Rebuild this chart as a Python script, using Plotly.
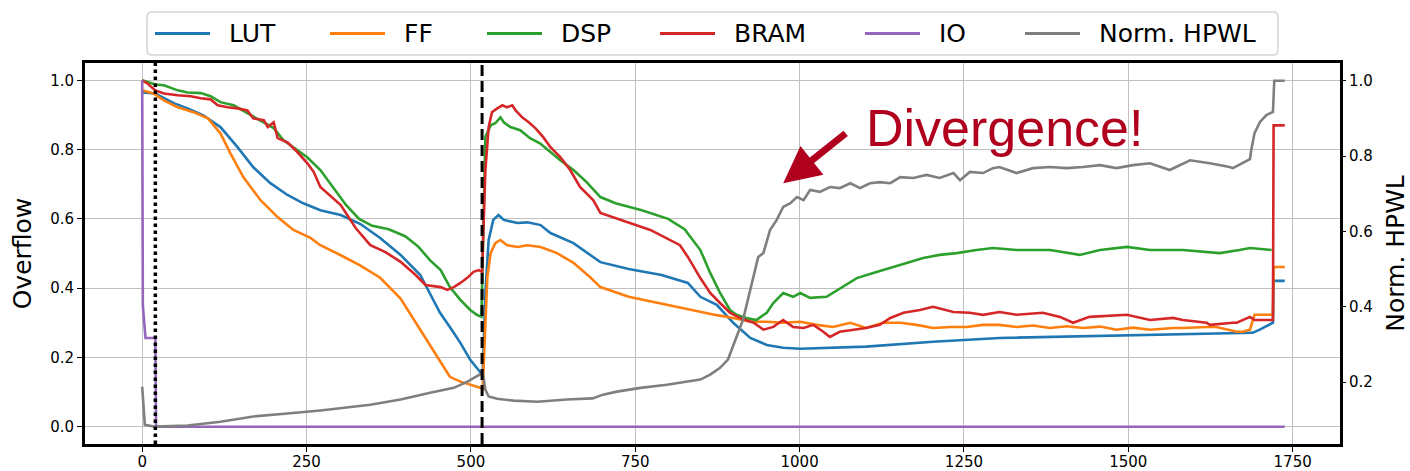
import plotly.graph_objects as go

# ---------------- data ----------------
lut_x = [0, 20, 48, 69, 93, 119, 145, 169, 195, 221, 245, 271, 302, 332, 362, 393, 423, 453, 468, 484, 499, 514, 518,
         522, 527, 534, 542, 550, 571, 586, 606, 621, 656, 697, 740, 790, 830, 849, 874, 899, 925, 950, 975, 1001,
         1101, 1203, 1304, 1381, 1498, 1600, 1689, 1700, 1710, 1720, 1721, 1738]
lut_y = [0.965, 0.962, 0.934, 0.919, 0.899, 0.865, 0.807, 0.749, 0.703, 0.669, 0.645, 0.625, 0.611, 0.585, 0.545,
         0.496, 0.438, 0.329, 0.288, 0.242, 0.193, 0.158, 0.156,
         0.386, 0.539, 0.597, 0.611, 0.597, 0.588, 0.590, 0.582, 0.559, 0.530, 0.475, 0.455, 0.438, 0.415, 0.375,
         0.352, 0.300, 0.256, 0.236, 0.228, 0.225, 0.231, 0.245, 0.256, 0.259, 0.265, 0.268, 0.271, 0.280, 0.290,
         0.300, 0.421, 0.421]

ff_x = [0, 17, 33, 54, 78, 100, 119, 134, 154, 180, 206, 230, 256, 271, 302, 332, 362, 393, 423, 454, 468, 484, 499,
        514, 518, 525, 530, 537, 545, 555, 571, 586, 606, 631, 656, 681, 697, 740, 790, 849, 874, 899, 925, 950, 975,
        1001, 1026, 1051, 1077, 1101, 1127, 1153, 1178, 1203, 1230, 1254, 1279, 1304, 1330, 1355, 1381, 1406, 1431,
        1457, 1482, 1507, 1533, 1568, 1583, 1619, 1634, 1665, 1674, 1685, 1692, 1720, 1721, 1738]
ff_y = [0.971, 0.962, 0.942, 0.922, 0.908, 0.890, 0.847, 0.790, 0.720, 0.654, 0.605, 0.568, 0.545, 0.524, 0.495,
        0.465, 0.430, 0.370, 0.280, 0.184, 0.144, 0.130, 0.121, 0.112, 0.110,
        0.432, 0.501, 0.530, 0.539, 0.524, 0.519, 0.524, 0.519, 0.501, 0.473, 0.432, 0.403, 0.375, 0.355, 0.330,
        0.322, 0.314, 0.303, 0.303, 0.300, 0.303, 0.294, 0.288, 0.300, 0.285, 0.300, 0.300, 0.294, 0.285, 0.288,
        0.288, 0.294, 0.294, 0.288, 0.292, 0.285, 0.290, 0.285, 0.289, 0.280, 0.286, 0.280, 0.285, 0.285, 0.288,
        0.288, 0.274, 0.274, 0.280, 0.323, 0.323, 0.461, 0.461]

dsp_x = [0, 20, 33, 54, 69, 89, 104, 119, 139, 160, 180, 200, 215, 230, 251, 271, 290, 310, 330, 350, 375, 400, 420,
         438, 454, 468, 484, 499, 509, 516, 522, 530, 537, 545, 550, 560, 575, 590, 605, 621, 636, 656, 676, 697, 720,
         760, 800, 825, 849, 864, 879, 894, 904, 919, 934, 950, 960, 975, 990, 1001, 1016, 1041, 1066, 1087, 1112,
         1138, 1163, 1188, 1213, 1239, 1269, 1294, 1330, 1381, 1426, 1457, 1498, 1533, 1583, 1619, 1639, 1669, 1685,
         1718]
dsp_y = [1.000, 0.988, 0.986, 0.971, 0.965, 0.963, 0.954, 0.937, 0.928, 0.905, 0.885, 0.862, 0.827, 0.807, 0.778,
         0.741, 0.690, 0.640, 0.600, 0.580, 0.570, 0.550, 0.520, 0.480, 0.452, 0.403, 0.366, 0.337, 0.323, 0.317,
         0.836, 0.870, 0.876, 0.893, 0.879, 0.865, 0.856, 0.833, 0.818, 0.793, 0.769, 0.741, 0.706, 0.663, 0.645,
         0.625, 0.600, 0.570, 0.510, 0.444, 0.386, 0.337, 0.323, 0.314, 0.308, 0.329, 0.357, 0.386, 0.375, 0.386,
         0.372, 0.375, 0.403, 0.429, 0.444, 0.458, 0.472, 0.487, 0.496, 0.501, 0.510, 0.516, 0.510, 0.510, 0.496,
         0.510, 0.519, 0.510, 0.510, 0.504, 0.501, 0.510, 0.516, 0.510]

bram_x = [0, 8, 20, 33, 54, 74, 89, 104, 115, 130, 145, 160, 169, 185, 191, 200, 206, 221, 236, 251, 261, 271, 302,
          325, 347, 370, 393, 416, 431, 454, 464, 474, 484, 494, 504, 512, 517, 522, 527, 532, 540, 548, 555, 563,
          568, 578, 588, 598, 610, 621, 636, 651, 666, 676, 686, 697, 727, 773, 818, 830, 849, 864, 879, 894, 909,
          930, 945, 960, 975, 990, 1006, 1021, 1036, 1046, 1061, 1082, 1101, 1122, 1138, 1158, 1183, 1203, 1234,
          1259, 1279, 1304, 1330, 1370, 1396, 1416, 1441, 1498, 1533, 1568, 1583, 1619, 1624, 1659, 1665, 1685,
          1692, 1720, 1721, 1738]
bram_y = [1.000, 0.991, 0.971, 0.962, 0.957, 0.954, 0.948, 0.945, 0.928, 0.922, 0.919, 0.913, 0.890, 0.885, 0.865,
          0.879, 0.833, 0.821, 0.793, 0.761, 0.735, 0.692, 0.640, 0.573, 0.524, 0.504, 0.476, 0.438, 0.409, 0.403,
          0.395, 0.403, 0.415, 0.429, 0.447, 0.452, 0.447, 0.740, 0.865, 0.908, 0.919, 0.928, 0.922, 0.928, 0.913,
          0.893, 0.879, 0.862, 0.836, 0.807, 0.778, 0.741, 0.692, 0.674, 0.654, 0.617, 0.597, 0.568, 0.524, 0.490,
          0.429, 0.386, 0.357, 0.329, 0.314, 0.300, 0.280, 0.288, 0.308, 0.288, 0.285, 0.294, 0.274, 0.259, 0.274,
          0.280, 0.285, 0.294, 0.314, 0.329, 0.337, 0.346, 0.331, 0.329, 0.323, 0.331, 0.323, 0.329, 0.317, 0.300,
          0.317, 0.323, 0.308, 0.314, 0.308, 0.300, 0.294, 0.300, 0.300, 0.317, 0.308, 0.308, 0.870, 0.870]

io_x = [0, 1, 5, 20, 21, 1738]
io_y = [1.000, 0.350, 0.256, 0.256, 0.000, 0.000]

hpwl_x = [0, 4, 20, 69, 119, 169, 221, 271, 347, 393, 438, 474, 494, 509, 518, 522, 527, 540, 565, 601, 646, 685,
          701, 722, 758, 798, 849, 864, 879, 891, 897, 904, 914, 925, 930, 937, 945, 950, 955, 965, 975, 986, 996,
          1006, 1016, 1031, 1046, 1061, 1077, 1092, 1107, 1122, 1138, 1153, 1173, 1193, 1213, 1234, 1244, 1259,
          1279, 1294, 1304, 1330, 1355, 1381, 1406, 1431, 1457, 1482, 1507, 1533, 1563, 1594, 1624, 1654, 1659,
          1685, 1687, 1692, 1700, 1710, 1720, 1722, 1738]
hpwl_y = [0.188, 0.087, 0.082, 0.085, 0.095, 0.109, 0.117, 0.125, 0.140, 0.154, 0.172, 0.185, 0.201, 0.215, 0.225,
          0.180, 0.162, 0.156, 0.151, 0.148, 0.154, 0.157, 0.167, 0.175, 0.185, 0.193, 0.207, 0.220, 0.238, 0.260,
          0.286, 0.320, 0.366, 0.445, 0.479, 0.532, 0.543, 0.577, 0.604, 0.630, 0.665, 0.675, 0.691, 0.683, 0.710,
          0.705, 0.718, 0.715, 0.728, 0.715, 0.728, 0.731, 0.728, 0.744, 0.742, 0.750, 0.742, 0.755, 0.736, 0.758,
          0.755, 0.768, 0.771, 0.755, 0.768, 0.771, 0.768, 0.771, 0.776, 0.768, 0.776, 0.781, 0.763, 0.789, 0.781,
          0.771, 0.768, 0.792, 0.816, 0.861, 0.890, 0.909, 0.917, 1.000, 1.000]

dotted_x = 20      # first phase marker
dashed_x = 517     # second phase marker

x_ticks = [0, 250, 500, 750, 1000, 1250, 1500, 1750]
left_ticks = [0.0, 0.2, 0.4, 0.6, 0.8, 1.0]
right_ticks = [0.2, 0.4, 0.6, 0.8, 1.0]

series_names = ["LUT", "FF", "DSP", "BRAM", "IO", "Norm. HPWL"]
series_colors = ["#1f77b4", "#ff7f0e", "#2ca02c", "#d62728", "#9467bd", "#7f7f7f"]

# ---------------- layout geometry ----------------
W, H = 1410, 471
PLOT_L, PLOT_R, PLOT_T, PLOT_B = 85, 1340, 63, 444          # frame in window pixels
ML, MT = PLOT_L, PLOT_T
MR, MB = W - PLOT_R, H - PLOT_B
PW, PH = PLOT_R - PLOT_L, PLOT_B - PLOT_T


def px(p):   # window pixel x -> paper x
    return (p - PLOT_L) / PW


def py(p):   # window pixel y -> paper y
    return (PLOT_B - p) / PH


LW = 2.6
fig = go.Figure()
data = [(lut_x, lut_y), (ff_x, ff_y), (dsp_x, dsp_y), (bram_x, bram_y), (io_x, io_y)]
for name, (xs, ys), col in zip(series_names[:5], data, series_colors[:5]):
    fig.add_trace(go.Scatter(x=xs, y=ys, mode="lines", name=name, line=dict(color=col, width=LW)))
fig.add_trace(go.Scatter(x=hpwl_x, y=hpwl_y, mode="lines", name=series_names[5], yaxis="y2",
                         line=dict(color=series_colors[5], width=LW)))

# phase markers
fig.add_shape(type="line", xref="x", yref="paper", x0=dotted_x, x1=dotted_x, y0=0, y1=1,
              line=dict(color="black", width=3.5, dash="3.5px,3.5px"), layer="above")
fig.add_shape(type="line", xref="x", yref="paper", x0=dashed_x, x1=dashed_x, y0=0, y1=1,
              line=dict(color="black", width=3, dash="11px,5px"), layer="above")

# divergence annotation
fig.add_annotation(x=975, y=0.703, xref="x", yref="y", ax=64, ay=-51, text="",
                   showarrow=True, arrowhead=2, arrowsize=1.05, arrowwidth=7, arrowcolor="#b0001e")
fig.add_annotation(x=px(864), y=py(128), xref="paper", yref="paper", text="Divergence!", showarrow=False,
                   xanchor="left", yanchor="middle",
                   font=dict(family="Liberation Sans, Arial", size=52, color="#b0001e"))

# legend (matplotlib style: long line samples in a rounded box)
bx0, bx1, by0, by1, r = 147, 1278, 12, 55, 5
fig.add_shape(type="path", xref="paper", yref="paper",
              path=(f"M{px(bx0 + r)},{py(by0)} L{px(bx1 - r)},{py(by0)} Q{px(bx1)},{py(by0)} {px(bx1)},{py(by0 + r)} "
                    f"L{px(bx1)},{py(by1 - r)} Q{px(bx1)},{py(by1)} {px(bx1 - r)},{py(by1)} "
                    f"L{px(bx0 + r)},{py(by1)} Q{px(bx0)},{py(by1)} {px(bx0)},{py(by1 - r)} "
                    f"L{px(bx0)},{py(by0 + r)} Q{px(bx0)},{py(by0)} {px(bx0 + r)},{py(by0)} Z"),
              line=dict(color="#d5d5d5", width=1.5), fillcolor="white", layer="above")
leg_line_x = [155, 330, 487, 660, 865, 1025]
leg_y = 33.5
for name, col, lx in zip(series_names, series_colors, leg_line_x):
    fig.add_shape(type="line", xref="paper", yref="paper", x0=px(lx), x1=px(lx + 55), y0=py(leg_y), y1=py(leg_y),
                  line=dict(color=col, width=3), layer="above")
    fig.add_annotation(x=px(lx + 73), y=py(leg_y), xref="paper", yref="paper", text=name, showarrow=False,
                       xanchor="left", yanchor="middle", borderpad=0,
                       font=dict(family="DejaVu Sans", size=25, color="black"))

axis_font = dict(family="DejaVu Sans", size=15, color="black")
title_font = dict(family="DejaVu Sans", size=25, color="black")

fig.update_layout(
    width=W, height=H,
    margin=dict(l=ML, r=MR, t=MT, b=MB),
    paper_bgcolor="white", plot_bgcolor="white",
    font=dict(family="DejaVu Sans", color="black"),
    showlegend=False,
    xaxis=dict(range=[-87, 1822], tickvals=x_ticks, ticks="outside", ticklen=5, tickwidth=1.2,
               tickcolor="black", showgrid=True, gridcolor="#c0c0c0", gridwidth=1, zeroline=False,
               showline=True, linecolor="black", linewidth=3, mirror=True, tickfont=axis_font,
               ticklabelstandoff=-3, automargin=False),
    yaxis=dict(range=[-0.05, 1.05], tickvals=left_ticks, tickformat=".1f", ticks="outside", ticklen=5,
               tickwidth=1.2, tickcolor="black", showgrid=True, gridcolor="#c0c0c0", gridwidth=1,
               zeroline=False, showline=True, linecolor="black", linewidth=3, mirror=True,
               tickfont=axis_font, title=dict(text="Overflow", font=title_font, standoff=12),
               automargin=False),
    yaxis2=dict(range=[0.036, 1.047], tickvals=right_ticks, tickformat=".1f", overlaying="y", side="right",
                ticks="outside", ticklen=5, tickwidth=1.2, tickcolor="black", showgrid=False,
                zeroline=False, showline=False, tickfont=axis_font,
                title=dict(text="Norm. HPWL", font=title_font, standoff=14), automargin=False),
)

# remove the page's default body margin so the figure fills the 1410x471 window exactly
fig.write_html("out.html", config={"displayModeBar": False},
               post_script="document.body.style.margin='0px';document.body.style.overflow='hidden';")
